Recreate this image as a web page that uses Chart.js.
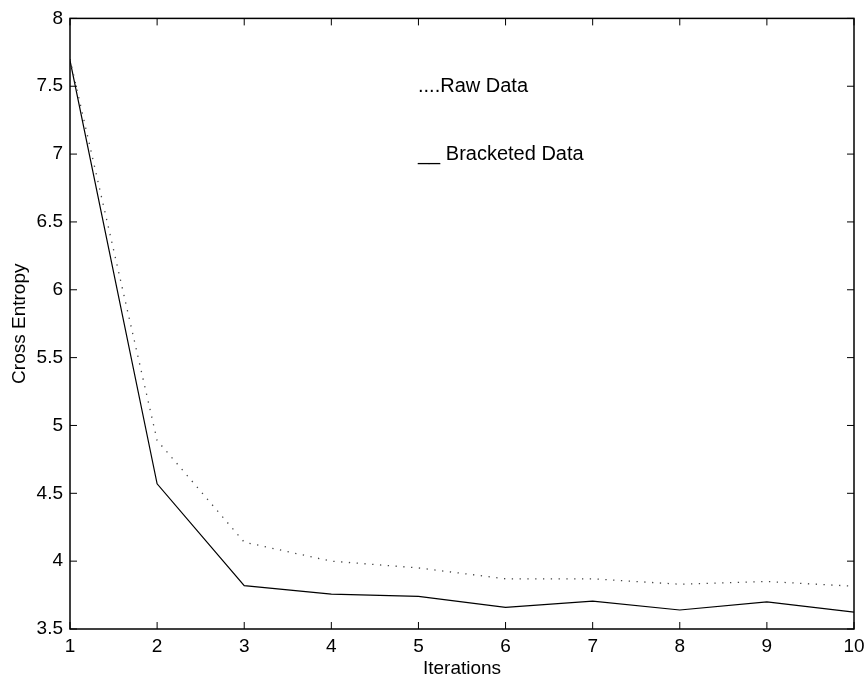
<!DOCTYPE html>
<html lang="en">
<head>
  <meta charset="UTF-8" />
  <title>Cross Entropy vs Iterations</title>
  <script src="https://cdn.jsdelivr.net/npm/chart.js"></script>
  <style>
    html, body { margin: 0; padding: 0; background: #fff; }
    #wrap { width: 865px; height: 680px; }
  </style>
</head>
<body>
  <div id="wrap"><canvas id="grafico" width="865" height="680"></canvas></div>

  <script>
    const iterations = [1, 2, 3, 4, 5, 6, 7, 8, 9, 10];
    const rawData = [7.70, 4.89, 4.14, 4.00, 3.95, 3.87, 3.87, 3.83, 3.85, 3.815];
    const bracketedData = [7.69, 4.57, 3.82, 3.757, 3.74, 3.66, 3.705, 3.64, 3.70, 3.625];
    const legendLines = ['....Raw Data', '__ Bracketed Data'];

    const FONT = 'Liberation Sans, Arial, sans-serif';

    // box frame with inward tick marks on all four sides
    const frame = {
      id: 'frame',
      afterDraw(chart) {
        const { ctx, chartArea: a, scales } = chart;
        ctx.save();
        ctx.strokeStyle = '#000';
        ctx.lineWidth = 1.5;
        ctx.strokeRect(a.left, a.top, a.right - a.left, a.bottom - a.top);
        ctx.lineWidth = 1;
        ctx.beginPath();
        scales.x.ticks.forEach(t => {
          const px = scales.x.getPixelForValue(t.value);
          ctx.moveTo(px, a.bottom); ctx.lineTo(px, a.bottom - 7);
          ctx.moveTo(px, a.top); ctx.lineTo(px, a.top + 7);
        });
        scales.y.ticks.forEach(t => {
          const py = scales.y.getPixelForValue(t.value);
          ctx.moveTo(a.left, py); ctx.lineTo(a.left + 7, py);
          ctx.moveTo(a.right, py); ctx.lineTo(a.right - 7, py);
        });
        ctx.stroke();

        // text legend inside the plot
        ctx.fillStyle = '#000';
        ctx.font = '20px ' + FONT;
        ctx.textBaseline = 'middle';
        ctx.fillText(legendLines[0], 418, 86);
        ctx.fillText(legendLines[1], 418, 154);
        ctx.restore();
      }
    };

    new Chart(document.getElementById('grafico'), {
      type: 'line',
      data: {
        datasets: [{
          label: 'Raw Data',
          data: iterations.map((x, i) => ({ x, y: rawData[i] })),
          borderColor: '#444',
          borderWidth: 1.3,
          borderDash: [1.3, 6.5],
          pointRadius: 0,
          tension: 0
        }, {
          label: 'Bracketed Data',
          data: iterations.map((x, i) => ({ x, y: bracketedData[i] })),
          borderColor: '#000',
          borderWidth: 1.2,
          pointRadius: 0,
          tension: 0
        }]
      },
      options: {
        responsive: false,
        animation: false,
        layout: { padding: { top: 16, right: 0, left: 0, bottom: 0 } },
        plugins: {
          legend: { display: false },
          tooltip: { enabled: false }
        },
        scales: {
          x: {
            type: 'linear',
            min: 1,
            max: 10,
            grid: { display: false, drawTicks: false },
            border: { display: false },
            ticks: { stepSize: 1, padding: 6, color: '#000', font: { family: FONT, size: 19 }, maxRotation: 0 },
            title: { display: true, text: 'Iterations', color: '#000', font: { family: FONT, size: 19 }, padding: { top: 0, bottom: 0 } },
            afterFit: s => { s.height = 51; s.paddingRight = 11; s.paddingLeft = 0; }
          },
          y: {
            min: 3.5,
            max: 8,
            grid: { display: false, drawTicks: false },
            border: { display: false },
            ticks: {
              stepSize: 0.5, padding: 7, color: '#000', font: { family: FONT, size: 19 },
              callback: v => String(v)
            },
            title: { display: true, text: 'Cross Entropy', color: '#000', font: { family: FONT, size: 19 }, padding: { top: 8, bottom: 0 } },
            afterFit: s => { s.width = 70; }
          }
        }
      },
      plugins: [frame]
    });
  </script>
</body>
</html>
